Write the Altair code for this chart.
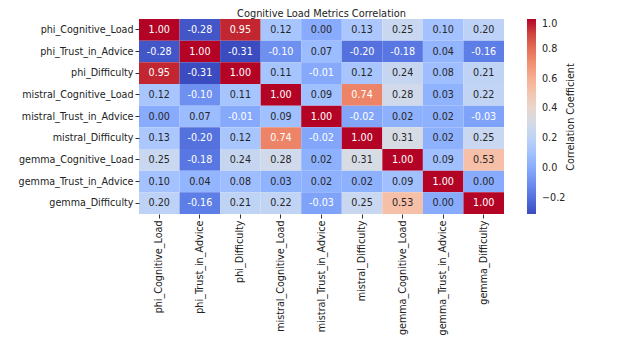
import altair as alt
import pandas as pd

labels = [
    "phi_Cognitive_Load", "phi_Trust_in_Advice", "phi_Difficulty",
    "mistral_Cognitive_Load", "mistral_Trust_in_Advice", "mistral_Difficulty",
    "gemma_Cognitive_Load", "gemma_Trust_in_Advice", "gemma_Difficulty",
]

row_phi_cl = [1.00, -0.28, 0.95, 0.12, 0.00, 0.13, 0.25, 0.10, 0.20]
row_phi_tr = [-0.28, 1.00, -0.31, -0.10, 0.07, -0.20, -0.18, 0.04, -0.16]
row_phi_df = [0.95, -0.31, 1.00, 0.11, -0.01, 0.12, 0.24, 0.08, 0.21]
row_mis_cl = [0.12, -0.10, 0.11, 1.00, 0.09, 0.74, 0.28, 0.03, 0.22]
row_mis_tr = [0.00, 0.07, -0.01, 0.09, 1.00, -0.02, 0.02, 0.02, -0.03]
row_mis_df = [0.13, -0.20, 0.12, 0.74, -0.02, 1.00, 0.31, 0.02, 0.25]
row_gem_cl = [0.25, -0.18, 0.24, 0.28, 0.02, 0.31, 1.00, 0.09, 0.53]
row_gem_tr = [0.10, 0.04, 0.08, 0.03, 0.02, 0.02, 0.09, 1.00, 0.00]
row_gem_df = [0.20, -0.16, 0.21, 0.22, -0.03, 0.25, 0.53, 0.00, 1.00]

rows = [row_phi_cl, row_phi_tr, row_phi_df, row_mis_cl, row_mis_tr,
        row_mis_df, row_gem_cl, row_gem_tr, row_gem_df]

chart_title = "Cognitive Load Metrics Correlation"
cbar_title = "Correlation Coefficient"
cbar_ticks = [-0.2, 0.0, 0.2, 0.4, 0.6, 0.8, 1.0]

vmin, vmax = -0.31, 1.0

# coolwarm colour stops
cw_pos = [0.0, 0.0625, 0.125, 0.1875, 0.25, 0.3125, 0.375, 0.4375, 0.5,
          0.5625, 0.625, 0.6875, 0.75, 0.8125, 0.875, 0.9375, 1.0]
cw_col = ["#3b4cc0", "#4d68d7", "#6282ea", "#779af7", "#8db0fe", "#a3c2ff",
          "#b8d0f9", "#ccd9ee", "#dddddd", "#ecd3c5", "#f5c4ad", "#f7b194",
          "#f49a7b", "#ec7f63", "#de604d", "#cb3e38", "#b40426"]

recs = []
for i, r in enumerate(labels):
    for j, c in enumerate(labels):
        v = rows[i][j]
        recs.append({"row": r, "col": c, "v": v, "txt": f"{v:.2f}",
                     "light": "w" if (v < -0.005 or v > 0.6) else "d"})
df = pd.DataFrame(recs)

font = "DejaVu Sans"
lfs = 9.6

base = alt.Chart(df).encode(
    x=alt.X("col:N", sort=labels, title=None,
            scale=alt.Scale(paddingInner=0, paddingOuter=0),
            axis=alt.Axis(labelAngle=270, labelAlign="right", labelBaseline="middle",
                          labelFontSize=lfs, labelFont=font, labelColor="#222",
                          tickSize=4, tickColor="#333", domain=False,
                          labelPadding=2, labelLimit=200)),
    y=alt.Y("row:N", sort=labels, title=None,
            scale=alt.Scale(paddingInner=0, paddingOuter=0),
            axis=alt.Axis(labelFontSize=lfs, labelFont=font, labelColor="#222",
                          tickSize=4, tickColor="#333", domain=False,
                          labelPadding=2, labelLimit=200)),
)

heat = base.mark_rect().encode(
    color=alt.Color("v:Q",
                    scale=alt.Scale(domain=[vmin + p * (vmax - vmin) for p in cw_pos],
                                    range=cw_col, interpolate="rgb"),
                    legend=alt.Legend(title=None, orient="none", legendX=388, legendY=0,
                                      direction="vertical", gradientLength=195,
                                      gradientThickness=9, values=cbar_ticks,
                                      format=".1f", labelFontSize=lfs, labelFont=font,
                                      labelColor="#222", labelOffset=6,
                                      gradientStrokeWidth=0))
)

text = base.mark_text(fontSize=lfs, font=font).encode(
    text="txt:N",
    color=alt.Color("light:N", scale=alt.Scale(domain=["w", "d"], range=["#ffffff", "#262626"]),
                    legend=None),
)

cbtitle = alt.Chart(pd.DataFrame({"t": [cbar_title]})).mark_text(
    angle=270, fontSize=lfs, font=font, color="#222", align="center", baseline="middle"
).encode(text="t:N", x=alt.value(432), y=alt.value(98))

ttl = alt.Chart(pd.DataFrame({"t": [chart_title]})).mark_text(
    fontSize=9.8, font=font, color="#222", align="center", baseline="alphabetic"
).encode(text="t:N", x=alt.value(182.5), y=alt.value(-2.4))

chart = alt.layer(heat, text, cbtitle, ttl).resolve_scale(color="independent").properties(
    width=365, height=195,
    autosize=alt.AutoSizeParams(type="none"),
    padding={"left": 131, "top": 11, "right": 108, "bottom": 124},
).configure_view(stroke=None)

chart.save("out.html", embed_options={"renderer": "svg", "actions": False})
